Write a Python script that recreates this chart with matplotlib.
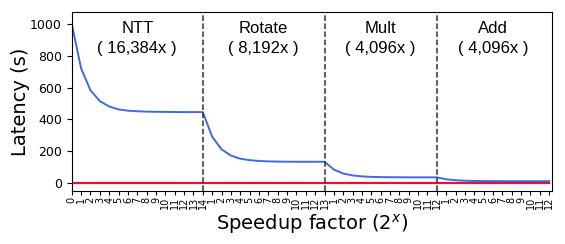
import numpy as np
import matplotlib
matplotlib.use("Agg")
import matplotlib.pyplot as plt

# per-stage latency as each stage's speedup exponent grows
ntt_x = list(range(0, 15))
ntt_lat = [1000, 720, 583, 515, 481, 463, 455, 451, 449, 448, 447, 446.5, 446, 446, 446]
rot_x = list(range(1, 14))
rot_lat = [291, 212, 173, 153, 144, 139, 136.5, 135, 134.5, 134, 134, 134, 134]
mult_x = list(range(1, 13))
mult_lat = [85, 60, 48, 42, 39, 37.5, 37, 36.5, 36, 36, 36, 36]
add_x = list(range(1, 13))
add_lat = [24, 18, 15, 13.5, 12.8, 12.4, 12.2, 12.1, 12, 12, 12, 12]

stages = ["NTT", "Rotate", "Mult", "Add"]
stage_speedup = ["16,384x", "8,192x", "4,096x", "4,096x"]

tick_labels = [str(v) for v in ntt_x + rot_x + mult_x + add_x]
latency = ntt_lat + rot_lat + mult_lat + add_lat
pos = np.arange(len(latency))
bounds = [len(ntt_x) - 1, len(ntt_x) - 1 + len(rot_x), len(ntt_x) - 1 + len(rot_x) + len(mult_x)]

fig = plt.figure(figsize=(5.65, 2.44), dpi=100)
ax = fig.add_axes([0.127, 0.217, 0.85, 0.734])

ax.plot(pos, latency, color="#4169e1", lw=1.4)
ax.plot(pos, np.zeros(len(pos)), color="#dc143c", lw=1.6)

for b in bounds:
    ax.axvline(b, color="#333333", ls="--", lw=1.1)

edges = [0] + bounds + [len(pos) - 1]
for i, name in enumerate(stages):
    c = (edges[i] + edges[i + 1]) / 2
    ax.text(c, 970, name, ha="center", va="center", fontsize=12, family="Liberation Sans")
    ax.text(c, 845, "( " + stage_speedup[i] + " )", ha="center", va="center", fontsize=12,
            family="Liberation Sans")

ax.set_xticks(pos)
ax.set_xticklabels(tick_labels, rotation=90, fontsize=7)
ax.tick_params(axis="x", pad=1, length=3)
ax.set_yticks([0, 200, 400, 600, 800, 1000])
ax.tick_params(axis="y", labelsize=9)
ax.set_xlim(0, len(pos) - 0.7)
ax.set_ylim(-50, 1075)
ax.set_ylabel("Latency (s)", fontsize=14, labelpad=0)
ax.set_xlabel("Speedup factor ($2^x$)", fontsize=14, labelpad=2)

fig.savefig("out.png", dpi=100)
